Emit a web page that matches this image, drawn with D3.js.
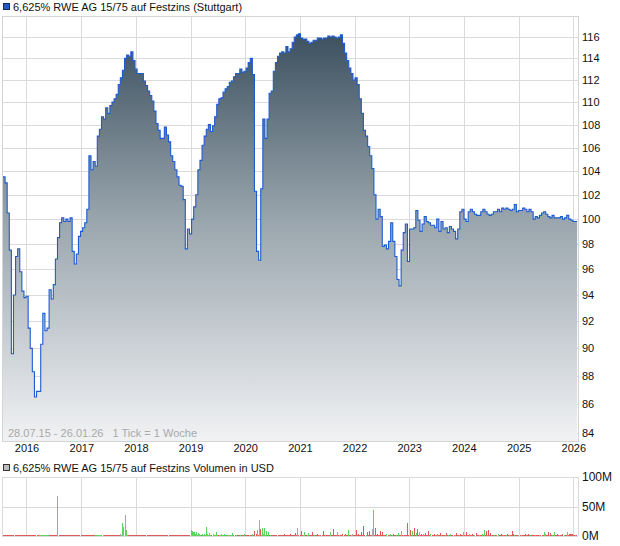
<!DOCTYPE html>
<meta charset="utf-8">
<style>
  body { margin: 0; background: #fff; }
  svg { display: block; font-family: "Liberation Sans", Arial, Helvetica, sans-serif; }
  .legend { font-size: 11px; fill: #111; }
  .axisLabel { font-size: 11px; fill: #111; }
  .range { font-size: 11px; fill: #a9a9a9; white-space: pre; }
  .grid { stroke: #dadada; stroke-width: 1; shape-rendering: crispEdges; }
</style>
<body>
<script src="https://cdn.jsdelivr.net/npm/d3@7"></script>
<script>

// ---- data ----
// price, one value every 14 days starting 28.07.2015
var startDate = new Date(2015, 6, 28);
var endDate = new Date(2026, 0, 26);
var priceStepDays = 14;
var priceValues = [
  103.5, 103, 100.5, 97.5, 89.6, 94, 97, 97.6, 95.8, 94.3,
  93.8, 93.9, 91.5, 90, 88.3, 86.5, 86.9, 86.9, 90.3, 92.6,
  91.3, 91.5, 94.4, 93.7, 94.8, 96.8, 98.5, 99.7, 100.1, 99.8,
  100, 99.8, 100.1, 97.4, 96.4, 97.2, 98.6, 99, 99.3, 99.7,
  100.8, 105.3, 104.1, 104.8, 104.4, 107, 107.6, 108.7, 108.5, 109.5,
  109, 109.7, 110, 110.3, 110.7, 111.6, 112.2, 112.9, 114, 114.3,
  114.2, 114.6, 113.8, 113, 112.6, 112.6, 112.6, 111.9, 111.5, 111,
  110.6, 110.1, 109.2, 108.1, 107.5, 106.8, 106.8, 107.8, 107.1, 106.5,
  105.3, 104.8, 104.1, 103.5, 102.8, 102.7, 101.6, 97.6, 99.2, 98.8,
  100, 101, 102, 104.1, 104.9, 106.2, 107, 107.6, 108, 107.4,
  107.9, 108.7, 109.8, 110.3, 110.4, 110.9, 111.2, 111.4, 111.8, 111.9,
  112.3, 112.6, 112.6, 113, 112.7, 112.8, 113.1, 113.6, 114, 112.5,
  102.3, 97.4, 96.7, 102.5, 108.5, 106.8, 108.5, 110.8, 111, 112.8,
  113.6, 114.2, 114.5, 114.6, 114.5, 115.1, 114.6, 114.9, 115.5, 116,
  116.2, 116.3, 115.9, 115.8, 115.8, 115.6, 115.4, 115.5, 115.7, 115.7,
  115.9, 115.9, 115.8, 115.9, 115.9, 116.1, 116, 116.1, 116, 115.9,
  116, 116.2, 115.4, 114.5, 113.8, 113.1, 112.6, 112, 112.2, 111.6,
  110.3, 109, 107.5, 107, 106.1, 105.3, 104.2, 102, 100, 100.8,
  100.2, 97.8, 97.9, 97.6, 98.2, 99.7, 98.2, 97, 95.2, 94.7,
  97.5, 98.9, 99.6, 96.6, 99.2, 99.2, 99.3, 100.7, 99.9, 99,
  99.6, 100.2, 99.8, 99.7, 99.5, 99.5, 99.3, 100, 99, 99.8,
  99.2, 99.3, 98.9, 99.4, 99.2, 99, 98.4, 99.2, 100.6, 100.8,
  100, 99.8, 100.6, 100.8, 100.6, 100.4, 100.3, 100.3, 100.6, 100.8,
  100.6, 100.4, 100.3, 100.4, 100.6, 100.6, 100.8, 100.6, 100.9, 100.8,
  100.9, 100.8, 100.7, 100.8, 101.2, 100.6, 100.7, 100.7, 100.9, 100.8,
  100.6, 100.8, 100.6, 100, 100.2, 100.1, 100.3, 100.5, 100.6, 100.4,
  100.2, 100.1, 100.3, 100.1, 100.1, 100.1, 100.2, 100, 100.1, 100.3,
  100, 99.9, 99.8, 99.8, 99.8
];

// weekly volume in millions USD, starting 28.07.2015
var volumeValues = [
  1, 2, 2, 1.5, 1, 1, 1, 1, 1, 1, 1, 1, 1, 1, 1, 1, 1, 1, 1, 1,
  1, 1, 1, 1, 1, 1, 1, 1, 1, 1, 1, 1, 1, 1, 1, 1, 1, 2, 1, 1,
  1, 1, 1, 1, 1, 1, 1, 1, 1, 1, 1, 1, 68, 1, 1, 1, 1, 1, 1, 1,
  1, 1, 1, 1, 1, 1, 1, 1, 1, 1, 1, 1, 1, 1, 1, 1, 1, 1, 1, 1,
  1, 1, 1, 1, 1, 1, 1, 1, 1, 1, 1, 1, 1, 1, 1, 1, 1, 1, 1, 1,
  1, 1, 1, 1, 1, 1, 1, 1, 1, 1, 1, 1, 3, 2, 22, 15, 36, 10, 2, 1,
  1, 1, 1, 1, 1, 1, 1, 1, 1, 1, 1, 1, 1, 1, 1, 1, 1, 1, 1, 1,
  1, 1, 1, 1, 1, 1, 1, 1, 1, 1, 1, 1, 1, 1, 1, 1, 1, 1, 1, 1,
  1, 1, 1, 1, 1, 1, 1, 1, 1, 1, 1, 1, 1, 1, 1, 1, 1, 1, 1, 10,
  8, 6, 7, 3, 6, 2, 5, 4, 2, 2, 3, 2, 4, 2, 16, 3, 2, 5, 2, 1,
  4, 1, 2, 6, 1, 2, 1, 1, 3, 1, 1, 4, 1, 2, 1, 2, 1, 1, 1, 5,
  1, 1, 2, 1, 1, 1, 2, 1, 1, 1, 3, 1, 1, 1, 1, 2, 1, 1, 3, 1,
  8, 4, 10, 2, 27, 12, 2, 13, 3, 14, 2, 9, 1, 6, 1, 2, 1, 1, 1, 1,
  2, 1, 1, 1, 2, 1, 1, 1, 3, 1, 1, 2, 1, 1, 4, 1, 1, 1, 1, 5,
  1, 13, 1, 1, 8, 1, 1, 6, 1, 1, 1, 5, 1, 1, 1, 7, 1, 1, 2, 1,
  3, 1, 1, 1, 1, 9, 1, 1, 2, 1, 1, 1, 7, 1, 1, 12, 1, 1, 1, 6,
  1, 2, 1, 1, 4, 1, 3, 1, 1, 10, 1, 1, 2, 4, 1, 1, 1, 10, 1, 4,
  1, 2, 6, 1, 17, 1, 2, 6, 1, 9, 1, 2, 12, 44, 1, 13, 1, 4, 1, 1,
  8, 1, 6, 1, 2, 1, 4, 1, 1, 3, 1, 2, 3, 1, 1, 2, 1, 5, 1, 1,
  8, 1, 2, 1, 1, 1, 22, 1, 10, 1, 8, 1, 13, 1, 5, 12, 1, 6, 1, 4,
  1, 4, 1, 5, 1, 1, 8, 1, 3, 1, 1, 4, 1, 1, 4, 1, 1, 5, 1, 1,
  2, 1, 1, 5, 1, 1, 1, 3, 1, 1, 1, 1, 5, 1, 1, 1, 4, 1, 1, 6,
  1, 1, 6, 1, 1, 4, 1, 1, 4, 1, 1, 5, 1, 1, 2, 1, 1, 4, 1, 11,
  1, 8, 1, 11, 1, 5, 1, 1, 1, 2, 1, 1, 3, 1, 1, 3, 1, 1, 1, 1,
  1, 4, 1, 1, 1, 1, 8, 3, 1, 1, 1, 1, 2, 1, 1, 1, 1, 1, 3, 1,
  1, 3, 1, 1, 1, 1, 2, 1, 1, 1, 1, 1, 1, 1, 1, 1, 7, 4, 1, 1,
  6, 1, 5, 1, 1, 1, 6, 1, 1, 3, 1, 1, 1, 1, 3, 2, 1, 1, 7, 1,
  3, 3, 3, 3, 1, 1, 1, 1
];
// g = up week, r = down week, n = unchanged
var volumeSide =
  "rrrrrrrrrrrrrrrrrrrr" + "rrrrrrrrrrrrrrgggggg" + "ggggrrrrrrrrgrrrrrrr" +
  "rrrrrrrrrrrrrrrrrrrr" + "rrrrrrrrggggggggrrrr" + "rrrrrrrrrrrrnggggggr" +
  "rrrrrrrrrrrrrrrrrrrr" + "rrrrrrrrrrrrrrrrrrrr" + "rrrrrrrrrrrrrrrrrrrg" +
  "gggggggggrgggggggggr" + "gggggrggggggrggggggg" + "rrgrrrgrrrgrrrrgrrgr" +
  "rrgrnrggggggrgrgrrrr" + "rrrrrrrrrrrrrrrrrrrr" + "rgrrrrggrrggrrrrrgrr" +
  "rrgrrrrgrrrrgrrrrrrg" + "rgrrrrrrrgrrgnrrrrrr" + "rrrrrrgrrrrrngrrrrrr" +
  "rrrrrrgrrgrgrrrgrgrr" + "grgrrrrrrrgrrrgrrgrr" + "rgrrrrrrgrrrgrgrrrgr" +
  "rrgrrgrgrrrgrrrgrrrg" + "rgrrrgrrrrgrrrgrrgrg" + "rrgrrrgrrgrrgrrrrgrr" +
  "grrgrrrrgrrrnrgrrrrr" + "rrrgrrrrgrrrgrrrggrr" + "rgrrgrgrrrrgrrrgrrgr" +
  "rrrrrrgr";

var priceTicks = [84, 86, 88, 90, 92, 94, 96, 98, 100, 102, 104, 106, 108, 110, 112, 114, 116];
var yearTicks = [2016, 2017, 2018, 2019, 2020, 2021, 2022, 2023, 2024, 2025, 2026];
var volumeTicks = [0, 50, 100];
var volumeTickLabels = ["0M", "50M", "100M"];

var titleText = "6,625% RWE AG 15/75 auf Festzins (Stuttgart)";
var volumeTitle = "6,625% RWE AG 15/75 auf Festzins Volumen in USD";
var rangeText = "28.07.15 - 26.01.26   1 Tick = 1 Woche";

// ---- layout ----
var W = 620, H = 546;
var plot = { left: 2, right: 578, top: 16, bottom: 441 };
var vplot = { left: 2, right: 578, top: 477, bottom: 536 };

var price = priceValues.map(function (v, i) {
  return { date: d3.timeDay.offset(startDate, i * priceStepDays), value: v };
});
var volume = volumeValues.map(function (v, i) {
  return { date: d3.timeDay.offset(startDate, i * 7), value: v, side: volumeSide.charAt(i) };
});

var x = d3.scaleTime().domain([startDate, endDate]).range([3, 577]);
var y = d3.scaleLog().domain([84, 116]).range([433, 37]);
var yv = d3.scaleLinear().domain([0, 100]).range([vplot.bottom, vplot.top]);

var svg = d3.select("body").append("svg")
  .attr("width", W)
  .attr("height", H);

var defs = svg.append("defs");
var grad = defs.append("linearGradient")
  .attr("id", "fillGrad")
  .attr("gradientUnits", "userSpaceOnUse")
  .attr("x1", 0).attr("y1", 33).attr("x2", 0).attr("y2", plot.bottom);
grad.append("stop").attr("offset", 0).attr("stop-color", "#3c505f");
grad.append("stop").attr("offset", 0.45).attr("stop-color", "#98a4ac");
grad.append("stop").attr("offset", 1).attr("stop-color", "#f1f2f4");

defs.append("clipPath").attr("id", "clipMain")
  .append("rect")
  .attr("x", plot.left).attr("y", plot.top)
  .attr("width", plot.right - plot.left).attr("height", plot.bottom - plot.top);

// ---- legend ----
svg.append("rect")
  .attr("x", 3.5).attr("y", 3.5).attr("width", 6).attr("height", 6)
  .attr("fill", "#2259c4").attr("stroke", "#1a2b55");
svg.append("text").attr("class", "legend")
  .attr("x", 13).attr("y", 11)
  .text(titleText);

// ---- main chart grid ----
var g = svg.append("g");

g.selectAll(".hgrid").data(priceTicks).enter().append("line")
  .attr("class", "grid")
  .attr("x1", plot.left).attr("x2", plot.right)
  .attr("y1", function (d) { return Math.round(y(d)) + 0.5; })
  .attr("y2", function (d) { return Math.round(y(d)) + 0.5; });

g.selectAll(".vgrid").data(yearTicks).enter().append("line")
  .attr("class", "grid")
  .attr("x1", function (d) { return Math.round(x(new Date(d, 0, 1))) + 0.5; })
  .attr("x2", function (d) { return Math.round(x(new Date(d, 0, 1))) + 0.5; })
  .attr("y1", plot.top).attr("y2", plot.bottom);

// area + line
var area = d3.area()
  .x(function (d) { return x(d.date); })
  .y0(plot.bottom)
  .y1(function (d) { return y(d.value); })
  .curve(d3.curveStepAfter);

var line = d3.line()
  .x(function (d) { return x(d.date); })
  .y(function (d) { return y(d.value); })
  .curve(d3.curveStepAfter);

var chart = g.append("g").attr("clip-path", "url(#clipMain)");
chart.append("path").datum(price)
  .attr("d", area)
  .attr("fill", "url(#fillGrad)");
chart.append("path").datum(price)
  .attr("d", line)
  .attr("fill", "none")
  .attr("stroke", "#1f5bd0")
  .attr("stroke-width", 1.1);

// frame
g.append("rect")
  .attr("x", plot.left + 0.5).attr("y", plot.top + 0.5)
  .attr("width", plot.right - plot.left).attr("height", plot.bottom - plot.top)
  .attr("fill", "none").attr("stroke", "#d4d4d4");

g.append("text").attr("class", "range")
  .attr("x", 8).attr("y", 437)
  .text(rangeText);

// y axis labels on the right
var yAxis = svg.append("g")
  .attr("transform", "translate(" + plot.right + ",0)")
  .call(d3.axisRight(y).tickValues(priceTicks).tickSize(0).tickPadding(4).tickFormat(d3.format("d")));
yAxis.select(".domain").remove();
yAxis.selectAll("text").attr("class", "axisLabel").attr("fill", null).style("font-size", "11px");

// x axis labels
var xAxis = svg.append("g")
  .attr("transform", "translate(0," + plot.bottom + ")")
  .call(d3.axisBottom(x)
    .tickValues(yearTicks.map(function (d) { return new Date(d, 0, 1); }))
    .tickSize(0).tickPadding(3)
    .tickFormat(d3.timeFormat("%Y")));
xAxis.select(".domain").remove();
xAxis.selectAll("text").attr("class", "axisLabel").attr("fill", null).style("font-size", "11px");

// ---- volume chart ----
svg.append("rect")
  .attr("x", 3.5).attr("y", 464.5).attr("width", 6).attr("height", 6)
  .attr("fill", "#bdbdbd").attr("stroke", "#333");
svg.append("text").attr("class", "legend")
  .attr("x", 13).attr("y", 472)
  .text(volumeTitle);

var gv = svg.append("g");

gv.selectAll(".vhgrid").data(volumeTicks).enter().append("line")
  .attr("class", "grid")
  .attr("x1", vplot.left).attr("x2", vplot.right)
  .attr("y1", function (d) { return Math.round(yv(d)) + 0.5; })
  .attr("y2", function (d) { return Math.round(yv(d)) + 0.5; });

gv.selectAll(".vvgrid").data(yearTicks).enter().append("line")
  .attr("class", "grid")
  .attr("x1", function (d) { return Math.round(x(new Date(d, 0, 1))) + 0.5; })
  .attr("x2", function (d) { return Math.round(x(new Date(d, 0, 1))) + 0.5; })
  .attr("y1", vplot.top).attr("y2", vplot.bottom);

gv.append("line").attr("class", "grid")
  .attr("x1", vplot.left + 0.5).attr("x2", vplot.left + 0.5)
  .attr("y1", vplot.top).attr("y2", vplot.bottom);
gv.append("line").attr("class", "grid")
  .attr("x1", vplot.right + 0.5).attr("x2", vplot.right + 0.5)
  .attr("y1", vplot.top).attr("y2", vplot.bottom);

var sideColor = { g: "#5ed45e", r: "#e05858", n: "#a8a8a8" };

gv.selectAll(".vbar").data(volume).enter().append("rect")
  .attr("x", function (d) { return Math.round(x(d.date)); })
  .attr("width", 1)
  .attr("y", function (d) { return yv(d.value); })
  .attr("height", function (d) { return vplot.bottom - yv(d.value); })
  .attr("fill", function (d) { return sideColor[d.side]; })
  .attr("shape-rendering", "crispEdges");

var vAxis = svg.append("g")
  .attr("transform", "translate(" + vplot.right + ",0)")
  .call(d3.axisRight(yv).tickValues(volumeTicks).tickSize(0).tickPadding(4)
    .tickFormat(function (d, i) { return volumeTickLabels[i]; }));
vAxis.select(".domain").remove();
vAxis.selectAll("text").attr("class", "axisLabel").attr("fill", null).style("font-size", "12px");

</script>
</body>
